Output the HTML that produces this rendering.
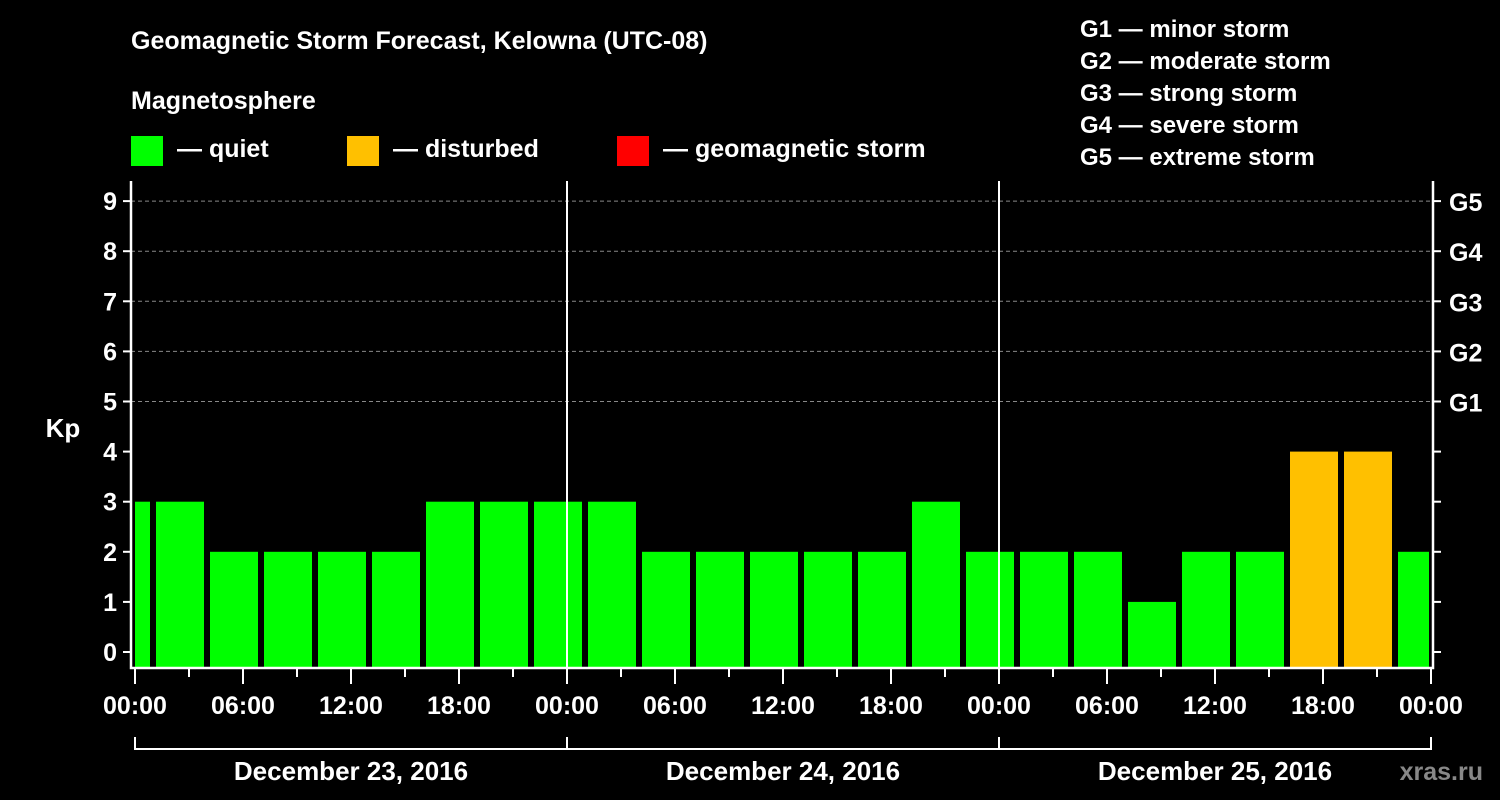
<!DOCTYPE html>
<html><head><meta charset="utf-8"><style>
html,body{margin:0;padding:0;background:#000;}
svg{display:block;font-family:"Liberation Sans",Arial,sans-serif;font-weight:bold;}
</style></head><body>
<svg id="chart" width="1500" height="800" viewBox="0 0 1500 800" xmlns="http://www.w3.org/2000/svg">
<rect width="1500" height="800" fill="#000"/>
<text x="131" y="49" fill="#fff" font-size="25">Geomagnetic Storm Forecast, Kelowna (UTC-08)</text>
<text x="131" y="109" fill="#fff" font-size="25">Magnetosphere</text>
<g><rect x="131" y="136" width="32" height="30" fill="#00ff00"/><text x="177" y="157" fill="#fff" font-size="25">— quiet</text></g>
<g><rect x="347" y="136" width="32" height="30" fill="#ffc000"/><text x="393" y="157" fill="#fff" font-size="25">— disturbed</text></g>
<g><rect x="617" y="136" width="32" height="30" fill="#ff0000"/><text x="663" y="157" fill="#fff" font-size="25">— geomagnetic storm</text></g>
<g fill="#fff" font-size="24">
<text x="1080" y="37">G1 — minor storm</text>
<text x="1080" y="69">G2 — moderate storm</text>
<text x="1080" y="101">G3 — strong storm</text>
<text x="1080" y="133">G4 — severe storm</text>
<text x="1080" y="165">G5 — extreme storm</text>
</g>
<text x="63" y="437" fill="#fff" font-size="26" text-anchor="middle">Kp</text>
<text x="1483" y="780" fill="#888" font-size="25" text-anchor="end">xras.ru</text>
<g id="grid"></g>
<g id="bars"></g>
<g id="axes"></g>
</svg>
<script>
const kpValues = [3,3,2,2,2,2,3,3,3,3,2,2,2,2,2,3,2,2,2,1,2,2,4,4,2];
const yTicks = [0,1,2,3,4,5,6,7,8,9];
const gLabels = ["","","","","","G1","G2","G3","G4","G5"];
const hourLabels = ["00:00","06:00","12:00","18:00","00:00","06:00","12:00","18:00","00:00","06:00","12:00","18:00","00:00"];
const dayLabels = ["December 23, 2016","December 24, 2016","December 25, 2016"];
const NS="http://www.w3.org/2000/svg";
const L=131,R=1433,T=181,B=668,X0=135,PXH=18;
const y=v=>652-v*50.1;
const x=h=>X0+h*PXH;
function mk(tag,attrs,parent,text){const e=document.createElementNS(NS,tag);for(const k in attrs)e.setAttribute(k,attrs[k]);if(text!==undefined)e.textContent=text;parent.appendChild(e);return e;}
const grid=document.getElementById('grid'),bars=document.getElementById('bars'),axes=document.getElementById('axes');
yTicks.forEach((v,i)=>{
  if(v>=5){const g=mk('line',{x1:L,x2:R,y1:y(v),y2:y(v),stroke:'#888','stroke-width':1,'stroke-dasharray':'4,3'},grid);
  
  }
  mk('line',{x1:L-8,x2:L,y1:y(v),y2:y(v),stroke:'#fff','stroke-width':2},axes);
  mk('line',{x1:R,x2:R+8,y1:y(v),y2:y(v),stroke:'#fff','stroke-width':2},axes);
  const t=mk('text',{x:L-14,y:y(v)+9,fill:'#fff','font-size':25,'text-anchor':'end'},axes,String(v));
  
  
  if(gLabels[i]){const g2=mk('text',{x:R+16,y:y(v)+10,fill:'#fff','font-size':25},axes,gLabels[i]);
  
  }
});
kpValues.forEach((v,i)=>{
  let s=x(-2+3*i)+3,e=x(1+3*i)-3;
  s=Math.max(s,x(0));e=Math.min(e,x(72)-2);
  const col=v>=5?'#ff0000':(v>=4?'#ffc000':'#00ff00');
  const b=mk('rect',{x:s,y:y(v),width:e-s,height:B-1-y(v),fill:col},bars);
  
  
});
[24,48].forEach(h=>mk('line',{x1:x(h),x2:x(h),y1:T,y2:B,stroke:'#fff','stroke-width':2},axes));
mk('path',{d:`M${L} ${T} V${B} H${R} V${T}`,stroke:'#fff','stroke-width':2.5,fill:'none'},axes);
for(let h=0;h<=72;h+=3){const major=h%6===0;mk('line',{x1:x(h),x2:x(h),y1:B,y2:B+(major?16:9),stroke:'#fff','stroke-width':2},axes);}
hourLabels.forEach((l,i)=>{const t=mk('text',{x:x(i*6),y:714,fill:'#fff','font-size':25,'text-anchor':'middle'},axes,l);

});
mk('path',{d:`M${x(0)} 737 V749 H${x(72)} V737`,stroke:'#fff','stroke-width':2,fill:'none'},axes);
[24,48].forEach(h=>mk('line',{x1:x(h),x2:x(h),y1:737,y2:749,stroke:'#fff','stroke-width':2},axes));
dayLabels.forEach((l,i)=>{const t=mk('text',{x:x(12+24*i),y:780,fill:'#fff','font-size':26,'text-anchor':'middle'},axes,l);

});
</script>
</body></html>
